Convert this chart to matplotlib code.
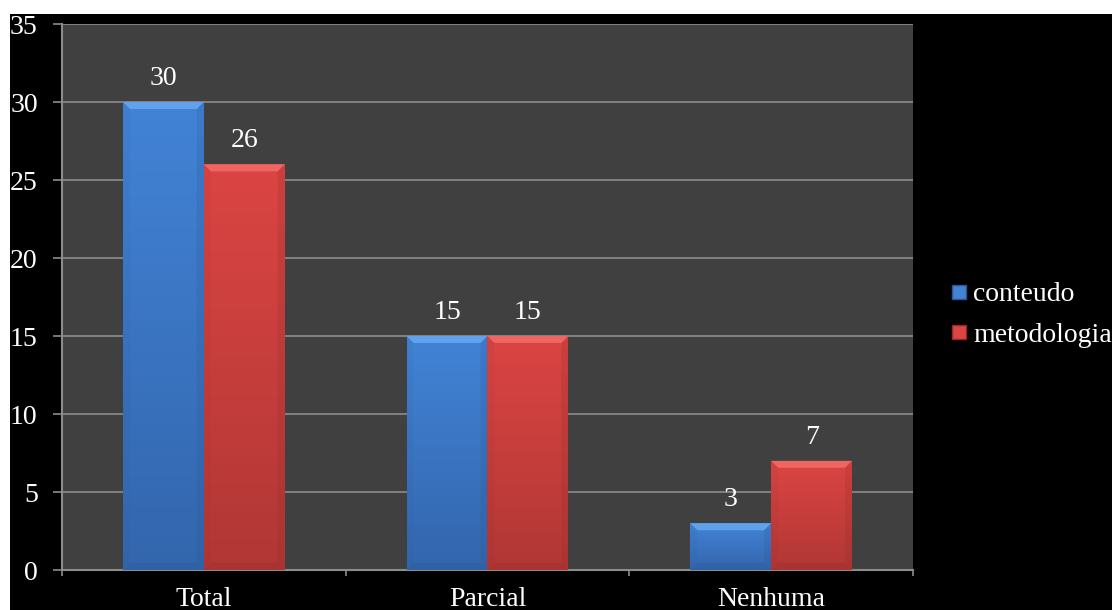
import matplotlib

matplotlib.use("Agg")
import matplotlib.pyplot as plt
import numpy as np
from matplotlib.colors import LinearSegmentedColormap
from matplotlib.lines import Line2D
from matplotlib.patches import Polygon, Rectangle

categories = ["Total", "Parcial", "Nenhuma"]
conteudo = [30, 15, 3]
metodologia = [26, 15, 7]
series_names = ["conteudo", "metodologia"]
y_ticks = [0, 5, 10, 15, 20, 25, 30, 35]

# top, bottom, bevel-light, bevel-dark per series
palette = {
    "conteudo": ("#4283d6", "#3366ad", "#66a8f2", "#2a5591"),
    "metodologia": ("#db4543", "#b13735", "#f26b68", "#8f2a28"),
}

plt.rcParams["font.family"] = ["Liberation Serif", "DejaVu Serif"]
W, H = 1112, 610
FS = 20

fig = plt.figure(figsize=(W / 100, H / 100), dpi=100, facecolor="white")
fig.patches.append(Rectangle((10 / W, 0), 1, 1 - 14 / H, transform=fig.transFigure,
                             facecolor="black", edgecolor="none", zorder=-10))
ax = fig.add_axes([62 / W, 40 / H, 851 / W, 546 / H])
ax.set_facecolor("#404040")
ax.set_xlim(-0.5, len(categories) - 0.5)
ax.set_ylim(0, 35)

ax_w_px = 851
ax_h_px = 546
px_x = (len(categories)) / ax_w_px
px_y = 35 / ax_h_px
bevel = 7

width = 0.285
x = np.arange(len(categories))


def fancy_bars(xs, vals, name):
    top_c, bot_c, light_c, dark_c = palette[name]
    cmap = LinearSegmentedColormap.from_list(name, [bot_c, top_c])
    bars = ax.bar(xs, vals, width=width, align="edge", color=top_c,
                  edgecolor="none", zorder=3)
    for b in bars:
        x0, y0 = b.get_x(), b.get_y()
        x1, y1 = x0 + b.get_width(), y0 + b.get_height()
        grad = np.linspace(0, 1, 256).reshape(-1, 1)
        im = ax.imshow(grad, cmap=cmap, origin="lower", aspect="auto",
                       extent=(x0, x1, y0, y1), zorder=3.1)
        im.set_clip_path(b)
        dx, dy = bevel * px_x, bevel * px_y
        dy = min(dy, (y1 - y0) / 2)
        # bevelled edges: light top, faint shading on the other sides
        ax.add_patch(Polygon([(x0, y1), (x1, y1), (x1 - dx, y1 - dy), (x0 + dx, y1 - dy)],
                             closed=True, facecolor=light_c, edgecolor="none",
                             alpha=0.85, zorder=3.2))
        ax.add_patch(Polygon([(x0, y0), (x1, y0), (x1 - dx, y0 + dy), (x0 + dx, y0 + dy)],
                             closed=True, facecolor=dark_c, edgecolor="none",
                             alpha=0.25, zorder=3.2))
        ax.add_patch(Polygon([(x1, y0), (x1, y1), (x1 - dx, y1 - dy), (x1 - dx, y0 + dy)],
                             closed=True, facecolor=dark_c, edgecolor="none",
                             alpha=0.2, zorder=3.2))
        ax.add_patch(Polygon([(x0, y0), (x0, y1), (x0 + dx, y1 - dy), (x0 + dx, y0 + dy)],
                             closed=True, facecolor=dark_c, edgecolor="none",
                             alpha=0.08, zorder=3.2))
        ax.annotate(f"{b.get_height():g}", ((x0 + x1) / 2, y1), xytext=(0, 17),
                    textcoords="offset points", ha="center", va="center",
                    color="white", fontsize=FS, zorder=5)
    return bars


fancy_bars(x - width, conteudo, "conteudo")
fancy_bars(x, metodologia, "metodologia")

grid_c = "#8c8c8c"
ax.set_yticks(y_ticks)
ax.yaxis.grid(True, color=grid_c, linewidth=1.2, zorder=1)
ax.set_axisbelow(True)

ax.set_xticks(np.arange(len(categories) + 1) - 0.5)
ax.set_xticklabels([])
ax.set_xticks(x, minor=True)
ax.set_xticklabels(categories, minor=True)
ax.tick_params(axis="x", which="major", direction="out", length=4.5, width=1.2, color=grid_c)
ax.tick_params(axis="x", which="minor", length=0, pad=12.5, labelsize=FS, labelcolor="white")
ax.tick_params(axis="y", direction="out", length=6.5, width=1.2, color=grid_c,
               pad=11, labelsize=FS, labelcolor="white")

for side in ("top", "right"):
    ax.spines[side].set_visible(False)
for side in ("left", "bottom"):
    ax.spines[side].set_color(grid_c)
    ax.spines[side].set_linewidth(1.5)

handles = [
    Line2D([], [], marker="s", linestyle="none", markersize=9.5,
           markerfacecolor=palette[n][0], markeredgecolor=palette[n][3])
    for n in series_names
]
fig.legend(handles, series_names, loc="center left",
           bbox_to_anchor=(951 / W, 1 - 315 / H), frameon=False, fontsize=FS,
           labelcolor="white", handlelength=0.6, handletextpad=0.2,
           labelspacing=0.55, borderpad=0, borderaxespad=0)

fig.savefig("out.png", dpi=100, facecolor=fig.get_facecolor())
